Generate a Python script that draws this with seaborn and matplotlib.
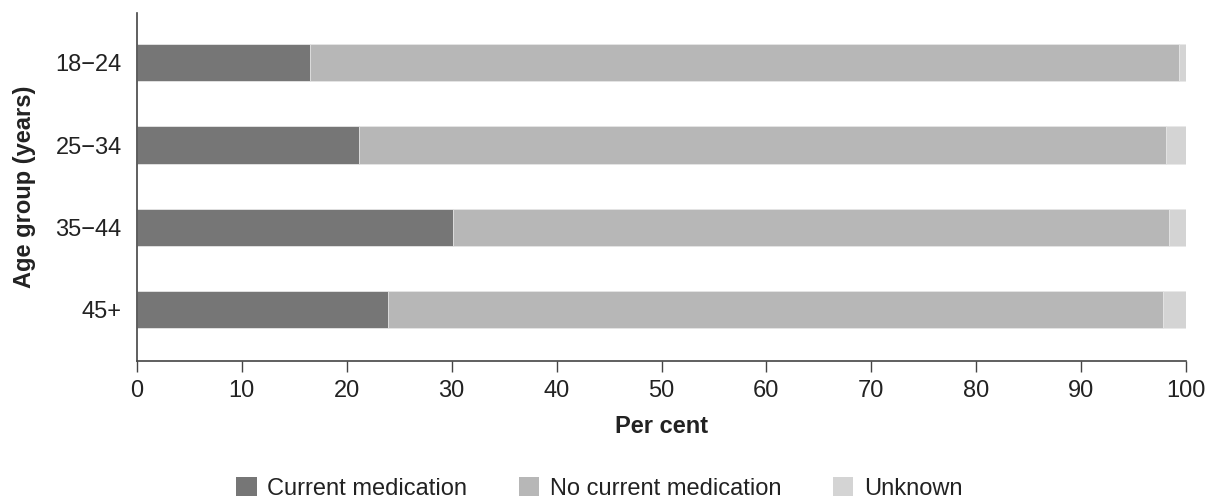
import numpy as np
import pandas as pd
import matplotlib
matplotlib.use("Agg")
from matplotlib import pyplot as plt
from matplotlib.patches import Patch
import seaborn as sns

# data ##########################################################################
age_groups = ["18\u221224", "25\u221234", "35\u221244", "45+"]
current_med = [16.5, 21.2, 30.1, 23.9]
no_current_med = [82.8, 76.9, 68.3, 73.9]
unknown = [0.7, 1.9, 1.6, 2.2]
series_names = ["Current medication", "No current medication", "Unknown"]
colours = ["#767676", "#b7b7b7", "#d4d4d4"]

# cumulative ends, so the stacked segments can be drawn as overlapping bars
df = pd.DataFrame({
    "age": age_groups,
    "Current medication": current_med,
    "No current medication": np.add(current_med, no_current_med),
    "Unknown": np.add(np.add(current_med, no_current_med), unknown),
})

sns.set_style("white")
plt.rcParams["font.family"] = ["Liberation Sans", "DejaVu Sans"]
fs = 17

fig, ax = plt.subplots(figsize=(12.11, 5.04), dpi=100)
fig.subplots_adjust(left=0.1131, right=0.9794, top=0.974, bottom=0.2837)

# draw longest first so shorter segments sit on top
for nm, col in reversed(list(zip(series_names, colours))):
    sns.barplot(data=df, x=nm, y="age", order=age_groups, color=col,
                orient="h", width=0.45, edgecolor="#e8e8e8", linewidth=0.6,
                saturation=1, ax=ax)

ax.set_xlim(0, 100)
ax.set_ylim(3.62, -0.6)
ax.set_xticks(range(0, 101, 10))
ax.tick_params(axis="x", bottom=True, length=8, width=1, color="#444444",
               labelsize=fs, labelcolor="#222222", pad=6)
ax.tick_params(axis="y", left=False, length=0, labelsize=fs,
               labelcolor="#222222", pad=11)
ax.set_xlabel("Per cent", fontsize=fs, fontweight="bold", color="#222222",
              labelpad=9)
ax.set_ylabel("Age group (years)", fontsize=fs, fontweight="bold",
              color="#222222", labelpad=14)
for s in ["top", "right"]:
    ax.spines[s].set_visible(False)
for s in ["left", "bottom"]:
    ax.spines[s].set_color("#444444")
    ax.spines[s].set_linewidth(1.2)

handles = [Patch(facecolor=c, edgecolor="none") for c in colours]
fig.legend(handles, series_names, loc="lower center", bbox_to_anchor=(0.495, -0.034),
           ncol=3, frameon=False, fontsize=fs, handlelength=0.85, handleheight=0.85,
           handletextpad=0.45, columnspacing=2.2, labelcolor="#222222")

fig.savefig("out.png", dpi=100)
